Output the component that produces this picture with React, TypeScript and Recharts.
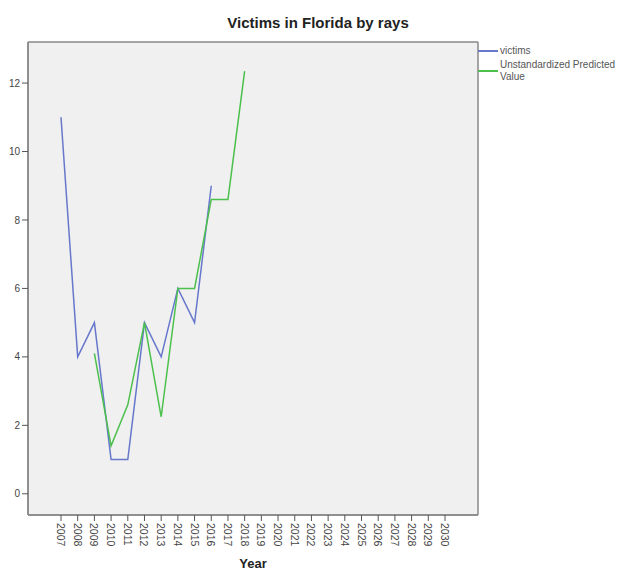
import { CartesianGrid, Line, LineChart, XAxis, YAxis } from 'recharts';

const years = [
  '2007', '2008', '2009', '2010', '2011', '2012', '2013', '2014', '2015', '2016', '2017', '2018',
  '2019', '2020', '2021', '2022', '2023', '2024', '2025', '2026', '2027', '2028', '2029', '2030',
];

// victims, 2007-2016
const victims = [11, 4, 5, 1, 1, 5, 4, 6, 5, 9];

// unstandardized predicted value, 2009-2018
const predictedStart = 2;
const predicted = [4.1, 1.4, 2.6, 5, 2.25, 6, 6, 8.6, 8.6, 12.35];

const yTicks = [0, 2, 4, 6, 8, 10, 12];

const data = years.map((year, i) => ({
  year,
  victims: i < victims.length ? victims[i] : null,
  predicted:
    i >= predictedStart && i < predictedStart + predicted.length ? predicted[i - predictedStart] : null,
}));

const FONT = '"Liberation Sans", Arial, sans-serif';
const BLUE = '#6677cc';
const GREEN = '#4cc04c';

// plot frame
const PLOT = { left: 28, top: 42, right: 478, bottom: 515 };

const YearTick = ({ x, y, payload }: any) => (
  <text
    x={x}
    y={y}
    transform={`rotate(90, ${x}, ${y})`}
    textAnchor="start"
    dominantBaseline="central"
    fontSize={10.5}
    fill="#444"
    fontFamily={FONT}
  >
    {payload.value}
  </text>
);

const legendItems = [
  { color: BLUE, lines: ['victims'] },
  { color: GREEN, lines: ['Unstandardized Predicted', 'Value'] },
];

const LegendBox = () => (
  <div
    style={{
      position: 'absolute',
      left: PLOT.right,
      top: 45,
      fontFamily: FONT,
      fontSize: 10,
      color: '#555',
      lineHeight: '12px',
    }}
  >
    {legendItems.map((item) => (
      <div key={item.lines[0]} style={{ display: 'flex', alignItems: 'center', marginBottom: 2 }}>
        <div style={{ width: 20, height: 2, background: item.color, marginRight: 2 }} />
        <div>
          {item.lines.map((l) => (
            <div key={l}>{l}</div>
          ))}
        </div>
      </div>
    ))}
  </div>
);

const App = () => {
  return (
    <div style={{ position: 'absolute', left: 0, top: 0, width: 627, height: 578, background: '#fff' }}>
      <div
        style={{
          position: 'absolute',
          left: 0,
          top: 14,
          width: 636,
          textAlign: 'center',
          fontFamily: FONT,
          fontWeight: 'bold',
          fontSize: 15,
          color: '#222',
        }}
      >
        Victims in Florida by rays
      </div>
      <LineChart
        width={627}
        height={578}
        data={data}
        margin={{ top: PLOT.top, right: 627 - PLOT.right, bottom: 23, left: 8 }}
      >
        <CartesianGrid
          fill="#f0f0f0"
          stroke="#888"
          strokeWidth={1.5}
          horizontalPoints={[PLOT.top, PLOT.bottom]}
          verticalPoints={[PLOT.left, PLOT.right]}
        />
        <XAxis
          dataKey="year"
          type="category"
          interval={0}
          padding={{ left: 33, right: 33 }}
          height={40}
          tickSize={6}
          tickMargin={2}
          tick={<YearTick />}
          axisLine={{ stroke: '#888', strokeWidth: 1.5 }}
          tickLine={{ stroke: '#555' }}
          label={{
            value: 'Year',
            position: 'bottom',
            offset: 4,
            fontSize: 13,
            fontWeight: 'bold',
            fill: '#222',
            fontFamily: FONT,
          }}
        />
        <YAxis
          type="number"
          domain={[-0.62, 13.2]}
          ticks={yTicks}
          allowDataOverflow
          width={20}
          tickSize={6}
          tickMargin={2}
          tick={{ fontSize: 10, fill: '#444', fontFamily: FONT }}
          axisLine={{ stroke: '#888', strokeWidth: 1.5 }}
          tickLine={{ stroke: '#555' }}
        />
        <Line
          type="linear"
          dataKey="victims"
          name="victims"
          stroke={BLUE}
          strokeWidth={1.5}
          dot={false}
          isAnimationActive={false}
        />
        <Line
          type="linear"
          dataKey="predicted"
          name="Unstandardized Predicted Value"
          stroke={GREEN}
          strokeWidth={1.5}
          dot={false}
          isAnimationActive={false}
        />
      </LineChart>
      <LegendBox />
    </div>
  );
};

export default App;
